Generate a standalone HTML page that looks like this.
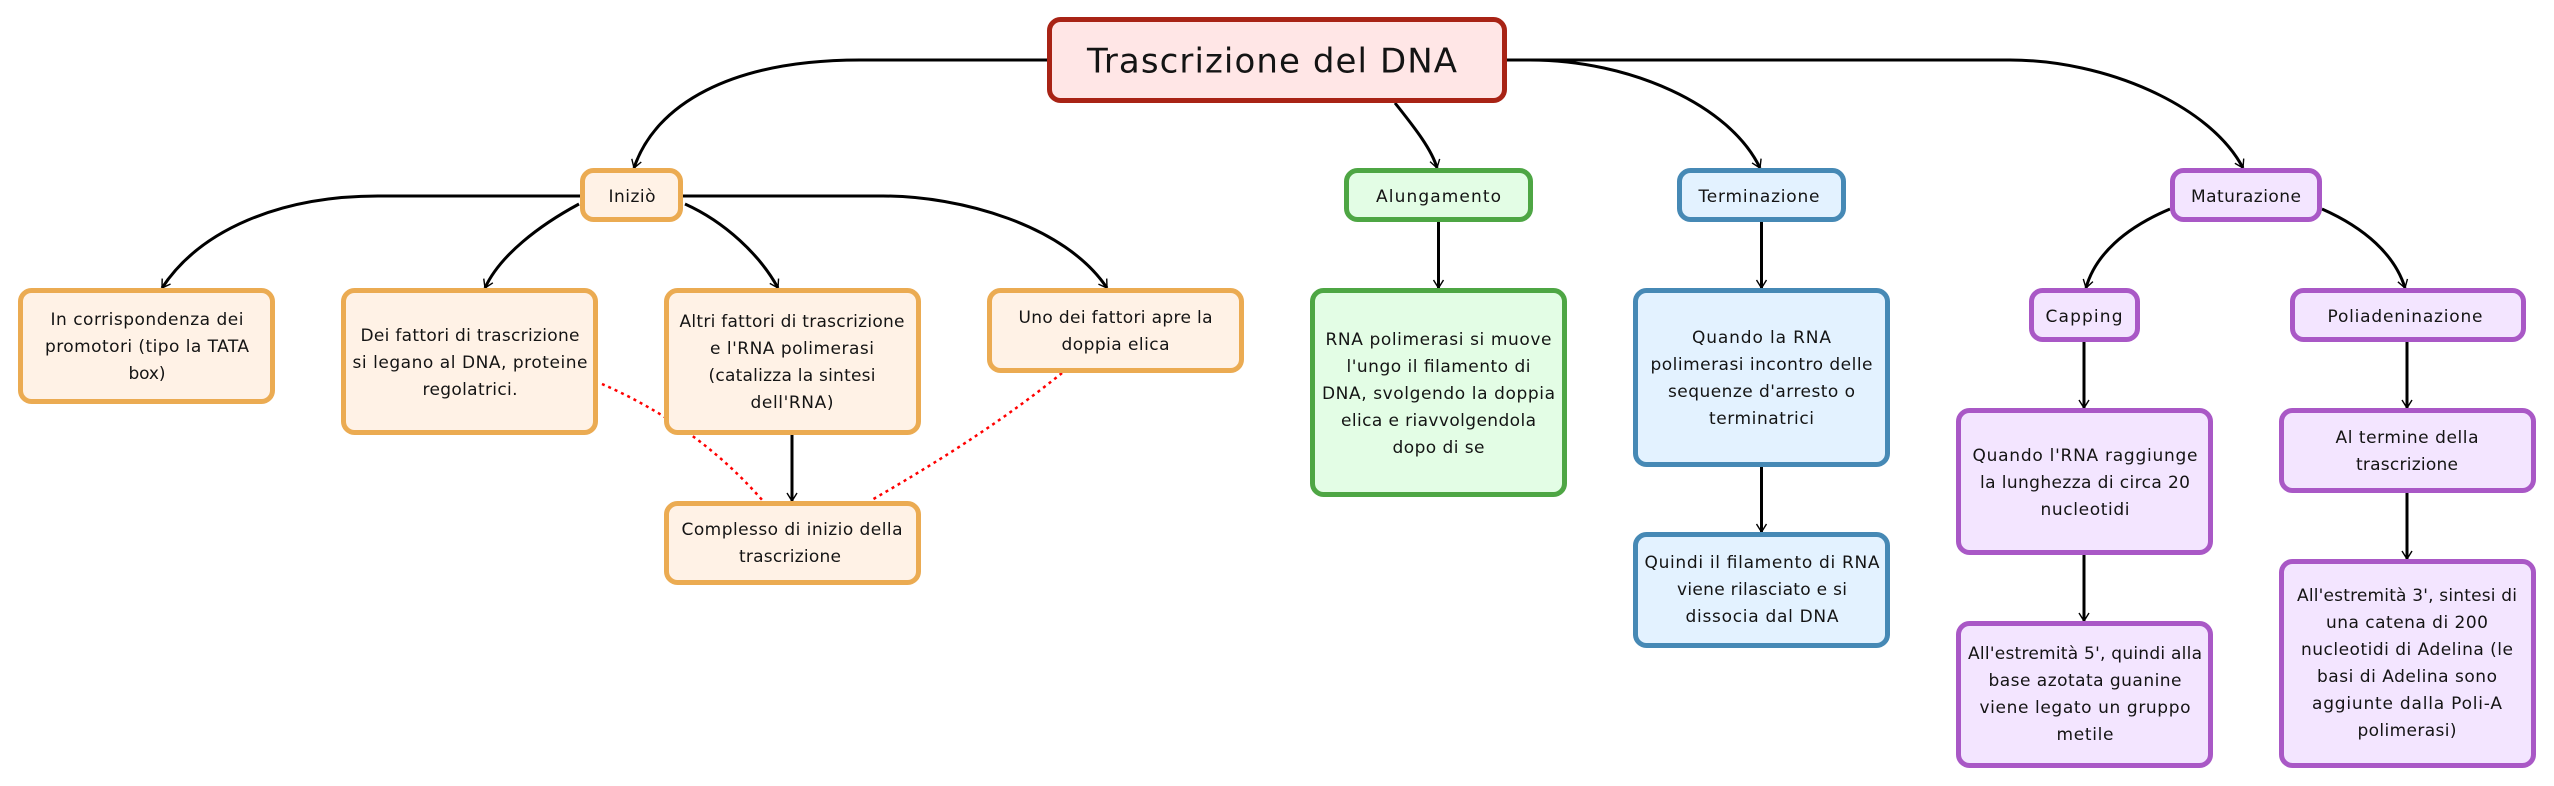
<!DOCTYPE html>
<html><head><meta charset="utf-8"><style>
html,body{margin:0;padding:0;background:#fff}
svg{display:block}
text{font-family:"DejaVu Sans",sans-serif;font-size:17px;fill:#141414;text-anchor:middle}
.l{fill:none;stroke:#000;stroke-width:3}
.a{marker-end:url(#m)}
.d{fill:none;stroke:#f00;stroke-width:2.5;stroke-dasharray:3 4}
.o{fill:#FFF2E6;stroke:#EBAB52}
.r{fill:#FFE6E6;stroke:#A82315}
.g{fill:#E3FDE5;stroke:#4EA644}
.b{fill:#E3F2FF;stroke:#4689B5}
.p{fill:#F3E5FF;stroke:#A958C6}
rect{stroke-width:5}
</style></head><body>
<svg width="2554" height="786" viewBox="0 0 2554 786" xmlns="http://www.w3.org/2000/svg">
<defs><marker id="m" markerUnits="userSpaceOnUse" markerWidth="14" markerHeight="14" refX="11" refY="7" orient="auto"><path d="M3 2 L11 7 L3 12" fill="none" stroke="#000" stroke-width="1.4"/></marker></defs>
<rect width="2554" height="786" fill="#fff" style="stroke:none"/>

<path class="d" d="M602 384C650 405 710 440 763 501"/>
<path class="d" d="M1062 373C1010 415 950 455 870 501"/>

<path class="l a" d="M1047 60L860 60C730 60 655 105 634 168"/>
<path class="l a" d="M1395 103C1415 128 1432 150 1437 168"/>
<path class="l a" d="M1507 60L1530 60C1630 60 1730 105 1760 168"/>
<path class="l a" d="M1507 60L2010 60C2105 60 2210 105 2243 168"/>
<path class="l a" d="M580 196L378 196C280 196 200 230 162 288"/>
<path class="l a" d="M579 204C540 225 500 255 485 288"/>
<path class="l a" d="M685 204C725 222 760 255 778 288"/>
<path class="l a" d="M683 196L883 196C960 196 1065 225 1107 288"/>
<path class="l a" d="M2170 209C2125 228 2095 255 2086 288"/>
<path class="l a" d="M2322 209C2365 228 2395 255 2405 288"/>
<path class="l a" d="M1438.500 222V288"/>
<path class="l a" d="M1761.500 222V288"/>
<path class="l a" d="M1761.500 467V532"/>
<path class="l a" d="M2084 342V408"/>
<path class="l a" d="M2084 555V621"/>
<path class="l a" d="M2407 342V408"/>
<path class="l a" d="M2407 493V559"/>
<path class="l a" d="M792 435V501"/>

<rect class="r" x="1049.500" y="19.500" width="455" height="81" rx="11"/>
<rect class="o" x="582.500" y="170.500" width="98" height="49" rx="11"/>
<rect class="g" x="1346.500" y="170.500" width="184" height="49" rx="11"/>
<rect class="b" x="1679.500" y="170.500" width="164" height="49" rx="11"/>
<rect class="p" x="2172.500" y="170.500" width="147" height="49" rx="11"/>
<rect class="o" x="20.500" y="290.500" width="252" height="111" rx="11"/>
<rect class="o" x="343.500" y="290.500" width="252" height="142" rx="11"/>
<rect class="o" x="666.500" y="290.500" width="252" height="142" rx="11"/>
<rect class="o" x="989.500" y="290.500" width="252" height="80" rx="11"/>
<rect class="o" x="666.500" y="503.500" width="252" height="79" rx="11"/>
<rect class="g" x="1312.500" y="290.500" width="252" height="204" rx="11"/>
<rect class="b" x="1635.500" y="290.500" width="252" height="174" rx="11"/>
<rect class="b" x="1635.500" y="534.500" width="252" height="111" rx="11"/>
<rect class="p" x="2031.500" y="290.500" width="106" height="49" rx="11"/>
<rect class="p" x="2292.500" y="290.500" width="231" height="49" rx="11"/>
<rect class="p" x="1958.500" y="410.500" width="252" height="142" rx="11"/>
<rect class="p" x="1958.500" y="623.500" width="252" height="142" rx="11"/>
<rect class="p" x="2281.500" y="410.500" width="252" height="80" rx="11"/>
<rect class="p" x="2281.500" y="561.500" width="252" height="204" rx="11"/>

<text x="1272" y="72.500" style="font-size:34px" textLength="370">Trascrizione del DNA</text>
<text x="632" y="202" textLength="47">Iniziò</text>
<text x="1438.500" y="202" textLength="125">Alungamento</text>
<text x="1759" y="202" textLength="121">Terminazione</text>
<text x="2246" y="202" textLength="110">Maturazione</text>

<text x="147" y="325" textLength="193">In corrispondenza dei</text>
<text x="147" y="352" textLength="204">promotori (tipo la TATA</text>
<text x="147" y="379" textLength="37">box)</text>

<text x="470" y="341" textLength="219">Dei fattori di trascrizione</text>
<text x="470" y="368" textLength="235">si legano al DNA, proteine</text>
<text x="470" y="395" textLength="95">regolatrici.</text>

<text x="792" y="327" textLength="225">Altri fattori di trascrizione</text>
<text x="792" y="354" textLength="164">e l'RNA polimerasi</text>
<text x="792" y="381" textLength="167">(catalizza la sintesi</text>
<text x="792" y="408" textLength="83">dell'RNA)</text>

<text x="1115.500" y="323" textLength="194">Uno dei fattori apre la</text>
<text x="1115.500" y="350" textLength="108">doppia elica</text>

<text x="792" y="535" textLength="221">Complesso di inizio della</text>
<text x="790" y="562" textLength="102">trascrizione</text>

<text x="1438.500" y="345" textLength="226">RNA polimerasi si muove</text>
<text x="1438.500" y="372" textLength="184">l'ungo il filamento di</text>
<text x="1438.500" y="399" textLength="233">DNA, svolgendo la doppia</text>
<text x="1438.500" y="426" textLength="195">elica e riavvolgendola</text>
<text x="1438.500" y="453" textLength="92">dopo di se</text>

<text x="1761.500" y="343" textLength="139">Quando la RNA</text>
<text x="1761.500" y="370" textLength="222">polimerasi incontro delle</text>
<text x="1761.500" y="397" textLength="187">sequenze d'arresto o</text>
<text x="1761.500" y="424" textLength="105">terminatrici</text>

<text x="1762" y="568" textLength="235">Quindi il filamento di RNA</text>
<text x="1762" y="595" textLength="170">viene rilasciato e si</text>
<text x="1762" y="622" textLength="153">dissocia dal DNA</text>

<text x="2084" y="322" textLength="77">Capping</text>
<text x="2405" y="322" textLength="155">Poliadeninazione</text>

<text x="2085" y="461" textLength="225">Quando l'RNA raggiunge</text>
<text x="2085" y="488" textLength="210">la lunghezza di circa 20</text>
<text x="2085" y="515" textLength="89">nucleotidi</text>

<text x="2085" y="659" textLength="234">All'estremità 5', quindi alla</text>
<text x="2085" y="686" textLength="193">base azotata guanine</text>
<text x="2085" y="713" textLength="211">viene legato un gruppo</text>
<text x="2085" y="740" textLength="57">metile</text>

<text x="2407" y="443" textLength="143">Al termine della</text>
<text x="2407" y="470" textLength="102">trascrizione</text>

<text x="2407" y="601" textLength="220">All'estremità 3', sintesi di</text>
<text x="2407" y="628" textLength="162">una catena di 200</text>
<text x="2407" y="655" textLength="212">nucleotidi di Adelina (le</text>
<text x="2407" y="682" textLength="180">basi di Adelina sono</text>
<text x="2407" y="709" textLength="190">aggiunte dalla Poli-A</text>
<text x="2407" y="736" textLength="99">polimerasi)</text>
</svg>
</body></html>
